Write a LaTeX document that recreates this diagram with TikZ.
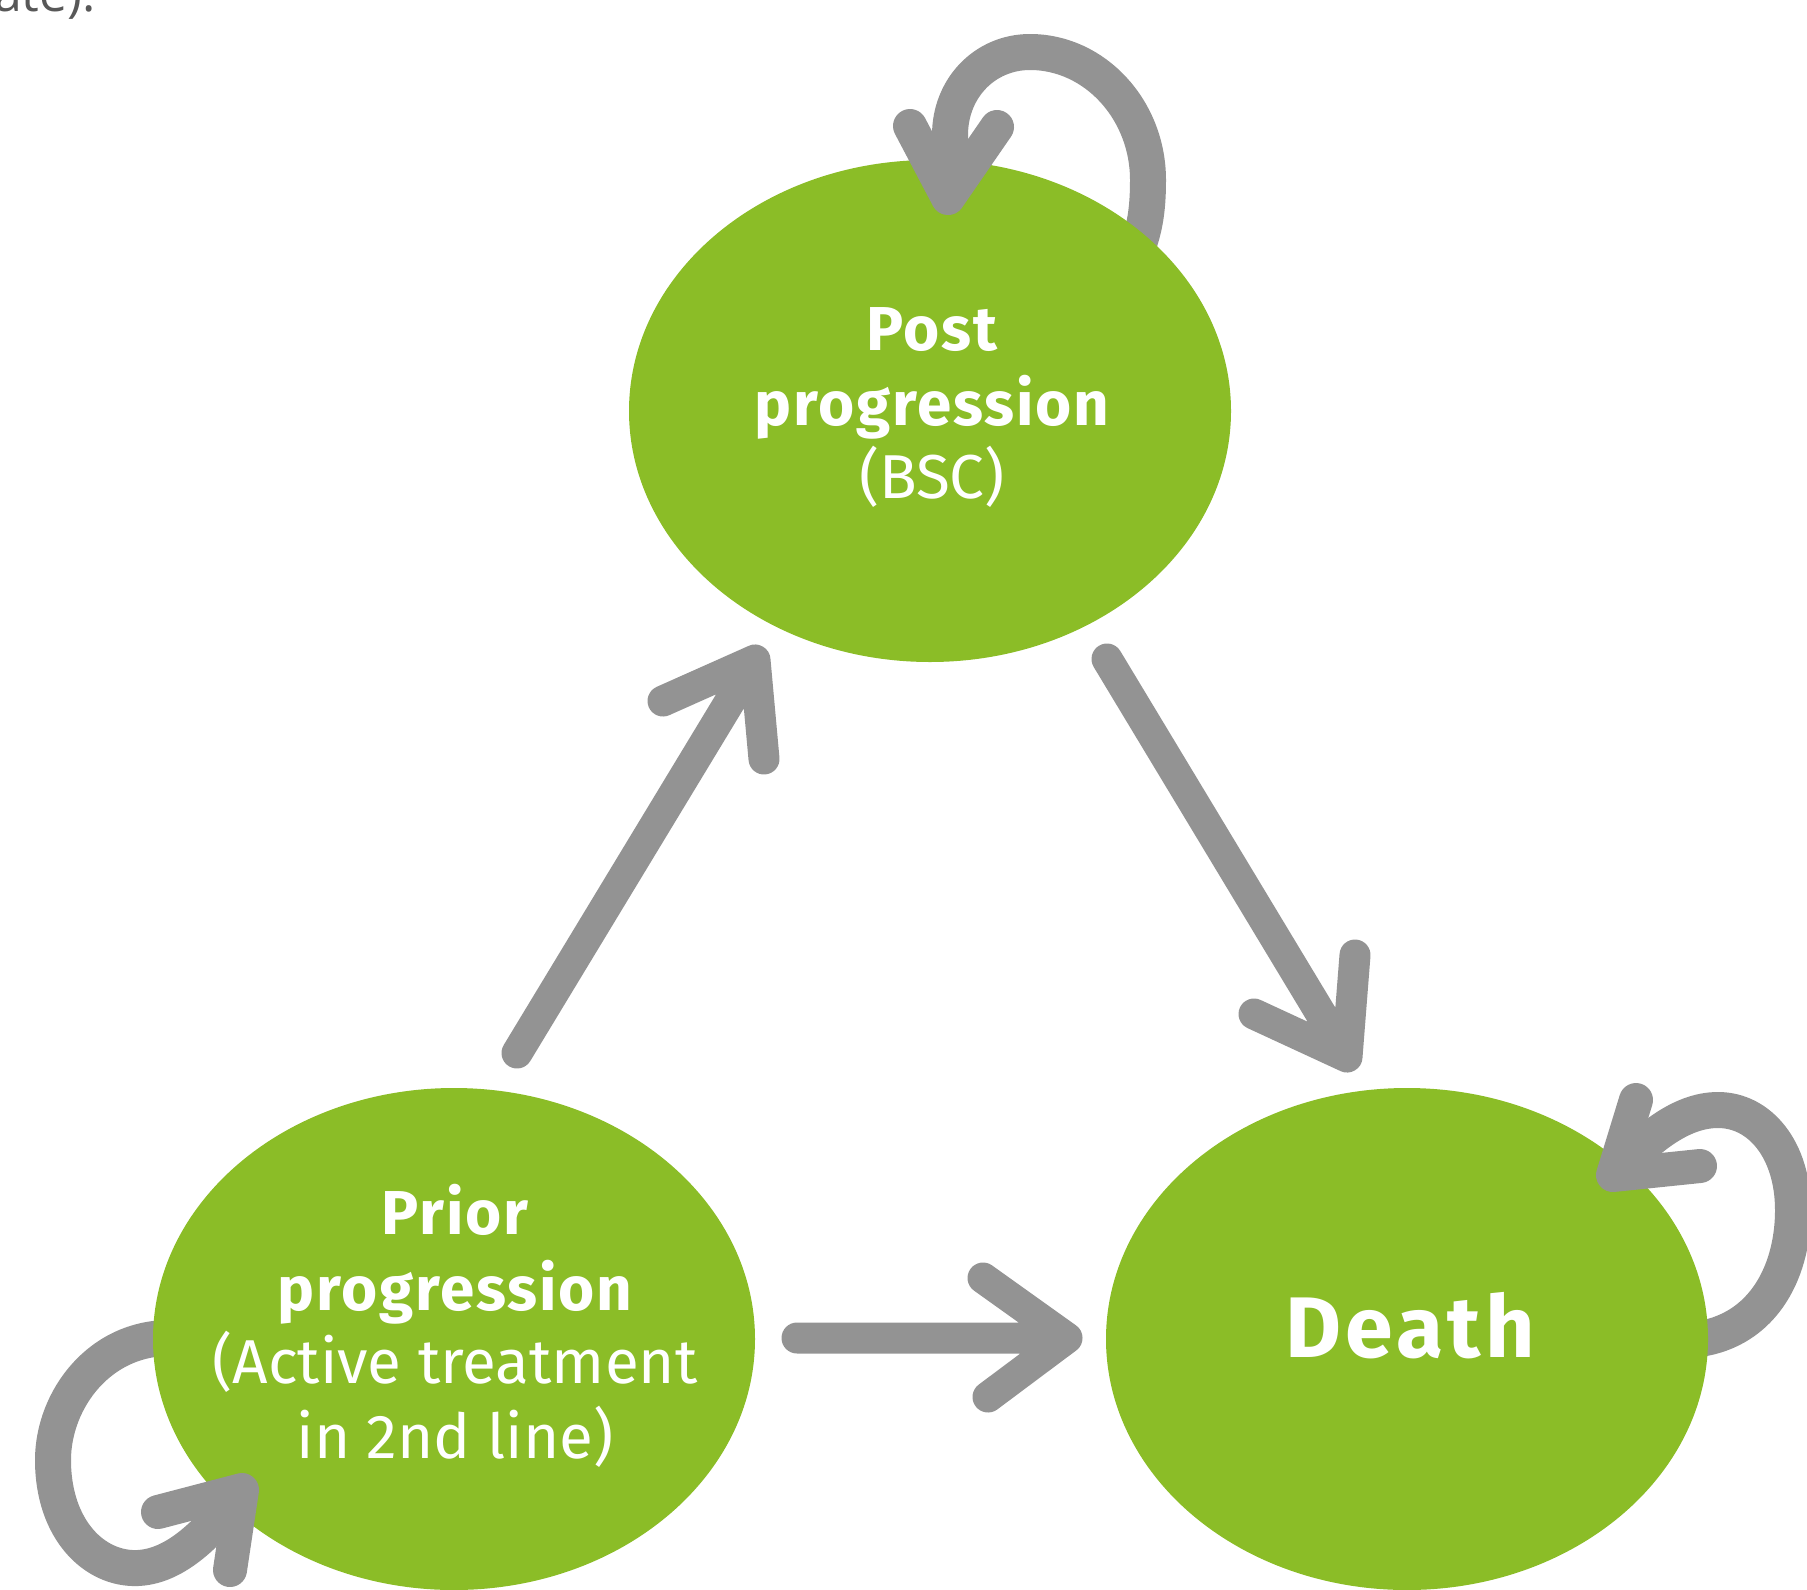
\documentclass[tikz,border=0pt]{standalone}
\usepackage{fontspec}
\setmainfont{Fira Sans}
\newfontfamily\bodyfont{Open Sans}
\newfontfamily\labelbold[LetterSpace=3]{Fira Sans Bold}
\newfontfamily\deathbold[LetterSpace=5]{Fira Sans Bold}
\usetikzlibrary{shapes.geometric}
\definecolor{stategreen}{RGB}{139,189,39}
\definecolor{arrowgray}{RGB}{147,147,147}
\definecolor{textgray}{RGB}{88,88,88}
\tikzset{
  state/.style={ellipse, fill=stategreen, minimum width=602pt, minimum height=502pt, inner sep=0pt},
  boldlbl/.style={anchor=base, inner sep=0pt, text=white, font=\labelbold\fontsize{62}{75}\selectfont},
  reglbl/.style={anchor=base, inner sep=0pt, text=white, font=\fontsize{62}{75}\selectfont},
  deathlbl/.style={anchor=base, inner sep=0pt, text=white, font=\deathbold\fontsize{86}{90}\selectfont},
  arrowline/.style={draw=arrowgray, line width=31pt, line cap=round, line join=round},
  loopline/.style={draw=arrowgray, line width=36pt, line cap=round, line join=round},
  loophead/.style={draw=arrowgray, line width=34pt, line cap=round, line join=round},
}
\begin{document}
\begin{tikzpicture}[x=1pt,y=-1pt]
\useasboundingbox (0,0) rectangle (1807,1590);

% cut-off text at the top-left
\node[anchor=base east, inner sep=0pt, text=textgray, font=\bodyfont\fontsize{50}{60}\selectfont] (frag) at (96,12) {ate).};

% self-loop tails (behind the states)
\draw[loopline] (1130,265) .. controls (1145,235) and (1148,210) .. (1148,180)
  .. controls (1148,110) and (1095,52) .. (1030,52)
  .. controls (985,52) and (950,88) .. (950,135) -- (950,198);
\draw[loopline] (1690,1340) .. controls (1760,1335) and (1793,1275) .. (1793,1210)
  .. controls (1793,1150) and (1760,1110) .. (1718,1110)
  .. controls (1680,1110) and (1645,1140) .. (1613,1175);
\draw[loopline] (175,1338) .. controls (100,1335) and (53,1400) .. (53,1460)
  .. controls (53,1530) and (95,1570) .. (138,1568)
  .. controls (180,1566) and (215,1525) .. (242,1490);

% states
\node[state] (post) at (930,411) {};
\node[state] (prior) at (454,1339) {};
\node[state] (death) at (1407,1339) {};

% labels
\node[boldlbl] (postA) at (932,350) {Post};
\node[boldlbl] (postB) at (932,425) {progression};
\node[reglbl]  (postC) at (932,498) {(BSC)};
\node[boldlbl] (priorA) at (455,1234) {Prior};
\node[boldlbl] (priorB) at (455,1310) {progression};
\node[reglbl]  (priorC) at (455,1383) {(Active treatment};
\node[reglbl]  (priorD) at (455,1458) {in 2nd line)};
\node[deathlbl] (deathA) at (1410,1357) {Death};

% straight transitions
\coordinate (a1s) at (517,1053); \coordinate (a1t) at (755,660);
\coordinate (a1l) at (663,701);  \coordinate (a1r) at (764,759);
\draw[arrowline] (a1s) -- (a1t) (a1l) -- (a1t) -- (a1r);

\coordinate (a2s) at (1107,659); \coordinate (a2t) at (1347,1057);
\coordinate (a2l) at (1254,1014); \coordinate (a2r) at (1355,955);
\draw[arrowline] (a2s) -- (a2t) (a2l) -- (a2t) -- (a2r);

\coordinate (a3s) at (797,1338); \coordinate (a3t) at (1067,1338);
\coordinate (a3l) at (983,1278); \coordinate (a3r) at (988,1397);
\draw[arrowline] (a3s) -- (a3t) (a3l) -- (a3t) -- (a3r);

% self-loop heads
\coordinate (l1t) at (948,198); \coordinate (l1l) at (910,126); \coordinate (l1r) at (997,127); \coordinate (l1b) at (950,140);
\draw[loophead] (l1b) -- (l1t) (l1l) -- (l1t) -- (l1r);
\coordinate (l2t) at (1613,1175); \coordinate (l2l) at (1636,1100); \coordinate (l2r) at (1700,1166); \coordinate (l2b) at (1637,1150);
\draw[loophead] (l2b) -- (l2t) (l2l) -- (l2t) -- (l2r);
\coordinate (l3t) at (242,1490); \coordinate (l3l) at (158,1512); \coordinate (l3r) at (230,1570); \coordinate (l3b) at (220,1517);
\draw[loophead] (l3b) -- (l3t) (l3l) -- (l3t) -- (l3r);
\end{tikzpicture}
\end{document}
